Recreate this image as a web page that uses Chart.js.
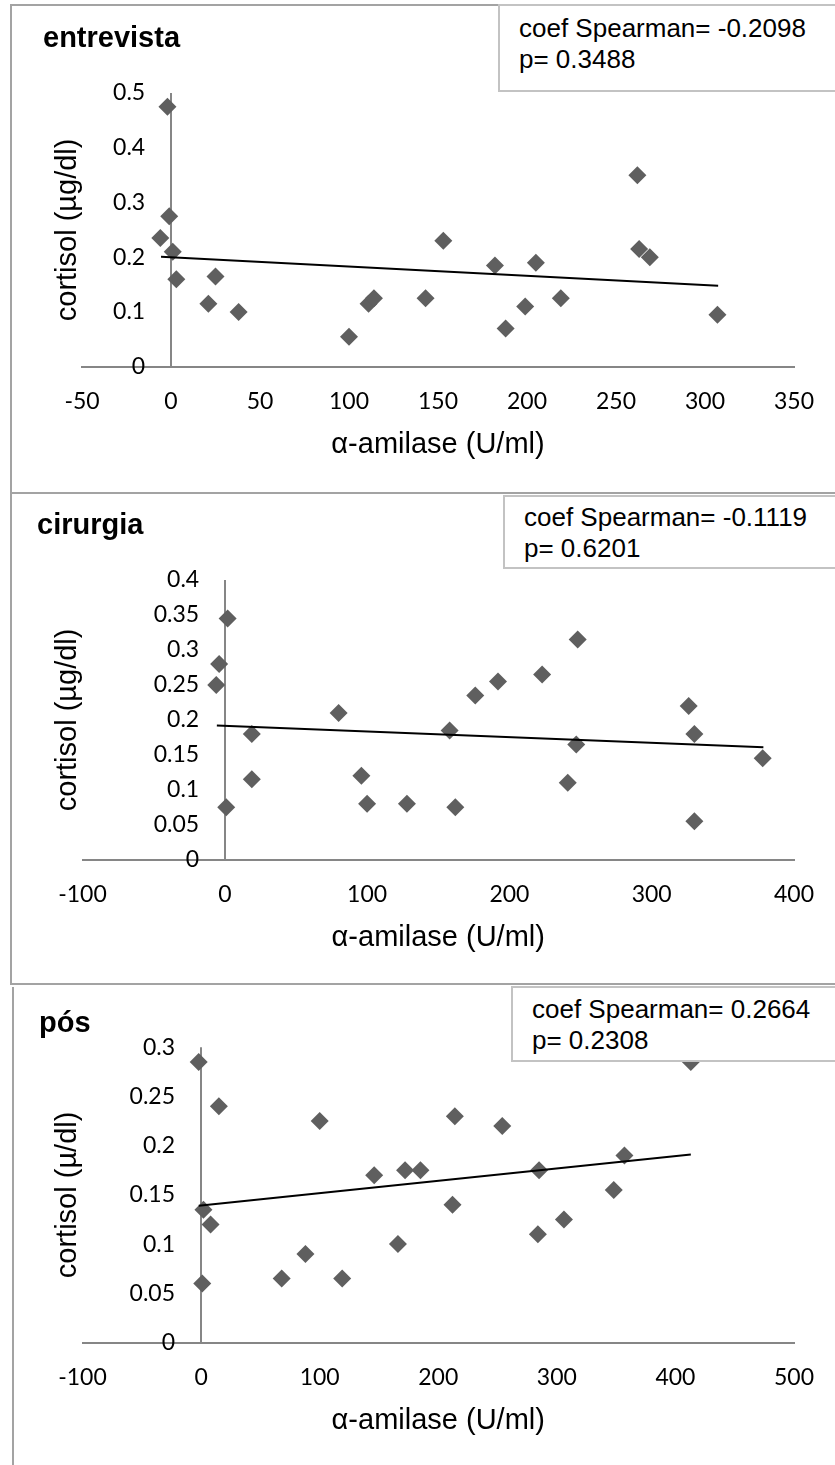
<!DOCTYPE html>
<html>
<head>
<meta charset="utf-8">
<script src="https://cdn.jsdelivr.net/npm/chart.js@4.4.1/dist/chart.umd.min.js"></script>
<style>
  body { margin: 0; width: 835px; height: 1465px; overflow: hidden; background: #fff; position: relative; font-family: "Liberation Sans", Arial, sans-serif; }
  .frame { position: absolute; border: 0 solid #a3a3a3; }
  .wrap { position: absolute; left: 0; width: 835px; }
  .ttl { position: absolute; font-weight: bold; font-size: 29px; line-height: 34px; color: #000; white-space: nowrap; }
  .box { position: absolute; width: 400px; box-sizing: border-box; border: 2px solid #c3c3c3; background: #fff; padding-left: 19px; font-size: 26px; line-height: 31px; color: #000; white-space: nowrap; }
</style>
</head>
<body>

<div class="frame" style="left:10px; top:4px; width:900px; height:488px; border-left-width:2px; border-top-width:2px;"></div>
<div class="frame" style="left:10px; top:492px; width:900px; height:489px; border-left-width:2px; border-top-width:2px; border-bottom-width:2px;"></div>
<div class="frame" style="left:12px; top:987px; width:900px; height:500px; border-left-width:2px;"></div>

<div class="wrap" style="top:0px; height:480px;"><canvas id="chart1"></canvas></div>
<div class="wrap" style="top:492px; height:490px;"><canvas id="chart2"></canvas></div>
<div class="wrap" style="top:985px; height:480px;"><canvas id="chart3"></canvas></div>

<div class="ttl" style="left:43px; top:20px;">entrevista</div>
<div class="ttl" style="left:37px; top:507px;">cirurgia</div>
<div class="ttl" style="left:39px; top:1005px;">pós</div>

<div class="box" style="left:498px; top:4px; height:88px; padding-top:7px;">coef Spearman= -0.2098<br>p= 0.3488</div>
<div class="box" style="left:503px; top:495px; height:74px; padding-top:5px;">coef Spearman= -0.1119<br>p= 0.6201</div>
<div class="box" style="left:511px; top:986px; height:76px; padding-top:6px;">coef Spearman= 0.2664<br>p= 0.2308</div>

<script>
// ENTREVISTA
var entX = [-2, -1, -6, 1, 3, 25, 21, 38, 100, 111, 114, 143, 153, 182, 188, 199, 205, 219, 262, 263, 269, 307];
var entY = [0.475, 0.275, 0.235, 0.21, 0.16, 0.165, 0.115, 0.1, 0.055, 0.115, 0.125, 0.125, 0.23, 0.185, 0.07, 0.11, 0.19, 0.125, 0.35, 0.215, 0.2, 0.095];
var entTrendX = [-5.6, 307.4];
var entTrendY = [0.201, 0.148];
var entXTicks = [-50, 0, 50, 100, 150, 200, 250, 300, 350];
var entYTicks = [0, 0.1, 0.2, 0.3, 0.4, 0.5];

// CIRURGIA
var cirX = [2, -4, -6, 1, 19, 19, 80, 96, 100, 128, 158, 162, 176, 192, 223, 248, 247, 241, 326, 330, 330, 378];
var cirY = [0.345, 0.28, 0.25, 0.075, 0.18, 0.115, 0.21, 0.12, 0.08, 0.08, 0.185, 0.075, 0.235, 0.255, 0.265, 0.315, 0.165, 0.11, 0.22, 0.18, 0.055, 0.145];
var cirTrendX = [-5.6, 378.5];
var cirTrendY = [0.192, 0.161];
var cirXTicks = [-100, 0, 100, 200, 300, 400];
var cirYTicks = [0, 0.05, 0.1, 0.15, 0.2, 0.25, 0.3, 0.35, 0.4];

// POS
var posX = [-2, 15, 100, 2, 8, 1, 68, 88, 119, 146, 172, 185, 166, 212, 214, 254, 285, 284, 306, 348, 357, 413];
var posY = [0.285, 0.24, 0.225, 0.135, 0.12, 0.06, 0.065, 0.09, 0.065, 0.17, 0.175, 0.175, 0.1, 0.14, 0.23, 0.22, 0.175, 0.11, 0.125, 0.155, 0.19, 0.285];
var posTrendX = [-2, 413];
var posTrendY = [0.139, 0.191];
var posXTicks = [-100, 0, 100, 200, 300, 400, 500];
var posYTicks = [0, 0.05, 0.1, 0.15, 0.2, 0.25, 0.3];

var axisGrey = '#868686';
var markerGrey = '#5f5f5f';
var tickFont = { family: 'Lato', size: 23 };
var titleFont = { family: '"Liberation Sans", Arial, sans-serif', size: 29 };

function pairs(xs, ys) {
    return xs.map(function (x, i) { return { x: x, y: ys[i] }; });
}

function fixedTicks(list) {
    return function (scale) {
        scale.ticks = list.map(function (v) { return { value: v }; });
    };
}

function makeChart(id, p) {
    var ctx = document.getElementById(id).getContext('2d');
    return new Chart(ctx, {
        type: 'scatter',
        data: {
            datasets: [{
                label: 'linear',
                data: pairs(p.trendX, p.trendY),
                showLine: true,
                borderColor: '#000',
                borderWidth: 2,
                pointRadius: 0,
                order: 0
            },
            {
                label: 'cortisol',
                data: pairs(p.x, p.y),
                pointStyle: 'rectRot',
                pointRadius: 9,
                backgroundColor: markerGrey,
                borderColor: markerGrey,
                borderWidth: 0,
                order: 1
            }]
        },
        options: {
            responsive: true,
            maintainAspectRatio: false,
            animation: false,
            events: [],
            layout: { padding: p.pad },
            plugins: {
                legend: { display: false },
                tooltip: { enabled: false }
            },
            scales: {
                x: {
                    type: 'linear',
                    min: p.xTicks[0],
                    max: p.xTicks[p.xTicks.length - 1],
                    afterBuildTicks: fixedTicks(p.xTicks),
                    grid: {
                        drawTicks: false,
                        lineWidth: 2,
                        // only the x = 0 line is shown, like the crossing y axis in Excel
                        color: function (c) { return c.tick && c.tick.value === 0 ? axisGrey : 'rgba(0,0,0,0)'; }
                    },
                    border: { display: true, color: axisGrey, width: 2 },
                    ticks: {
                        padding: 21, maxRotation: 0, autoSkip: false, color: '#000', font: tickFont,
                        callback: function (v) { return String(v); }
                    },
                    title: {
                        display: true, text: 'α-amilase (U/ml)', color: '#000', font: titleFont,
                        // tick padding is counted twice in the axis height, pull the title back up
                        padding: { top: -9, bottom: 4 }
                    }
                },
                y: {
                    type: 'linear',
                    position: { x: p.yAt },
                    min: 0,
                    max: p.yTicks[p.yTicks.length - 1],
                    afterBuildTicks: fixedTicks(p.yTicks),
                    grid: { display: false, drawTicks: false },
                    border: { display: false },
                    ticks: {
                        padding: 0, autoSkip: false, color: '#000', font: tickFont,
                        callback: function (v) { return String(v); }
                    }
                },
                yTitle: {
                    type: 'linear',
                    axis: 'y',
                    position: 'left',
                    grid: { display: false, drawTicks: false },
                    border: { display: false },
                    ticks: { display: false },
                    title: {
                        display: true, text: p.yLabel, color: '#000',
                        font: { family: titleFont.family, size: 29, lineHeight: 1 },
                        padding: 0
                    }
                }
            }
        }
    });
}

makeChart('chart1', {
    x: entX, y: entY, trendX: entTrendX, trendY: entTrendY,
    xTicks: entXTicks, yTicks: entYTicks, yLabel: 'cortisol (µg/dl)',
    yAt: -14.5,
    pad: { left: 53, right: 37.5, top: 93, bottom: 13.8 }
});

makeChart('chart2', {
    x: cirX, y: cirY, trendX: cirTrendX, trendY: cirTrendY,
    xTicks: cirXTicks, yTicks: cirYTicks, yLabel: 'cortisol (µg/dl)',
    yAt: -18,
    pad: { left: 53.5, right: 39, top: 88, bottom: 22.8 }
});

makeChart('chart3', {
    x: posX, y: posY, trendX: posTrendX, trendY: posTrendY,
    xTicks: posXTicks, yTicks: posYTicks, yLabel: 'cortisol (µ/dl)',
    yAt: -22,
    pad: { left: 53.5, right: 28, top: 62.3, bottom: 23.1 }
});
</script>
</body>
</html>
